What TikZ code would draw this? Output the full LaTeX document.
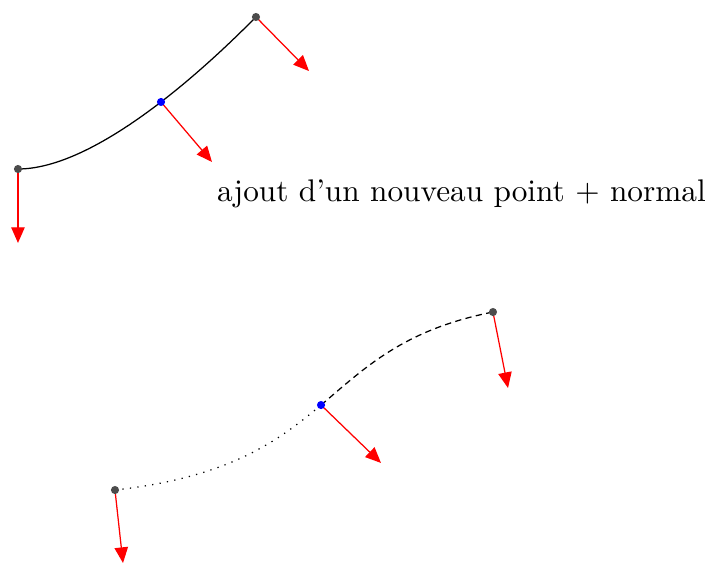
\documentclass[tikz,border=0pt]{standalone}
\usetikzlibrary{arrows.meta}

\begin{document}
\begin{tikzpicture}[
    pt/.style={circle, fill=black!70, inner sep=0pt, minimum size=2.6pt},
    newpt/.style={circle, fill=blue, inner sep=0pt, minimum size=2.6pt},
    normale/.style={red, -{Triangle[length=5pt, width=4.3pt]}}
  ]
  \useasboundingbox (0,0) rectangle (7.955,6.326);

  % courbe avant
  \coordinate (ca0) at (0.202, 4.427);
  \coordinate (ca1) at (1.809, 5.180);
  \coordinate (ca2) at (2.876, 6.135);
  \coordinate (na0) at (0.202, 3.596);
  \coordinate (na1) at (2.382, 4.506);
  \coordinate (na2) at (3.472, 5.528);
  \draw (ca0) .. controls +(0.989,0) and +(-0.27,-0.27) .. (ca2);
  \draw[normale] (ca0) -- (na0);
  \draw[normale] (ca1) -- (na1);
  \draw[normale] (ca2) -- (na2);
  \node[pt] (a0) at (ca0) {};
  \node[newpt] (a1) at (ca1) {};
  \node[pt] (a2) at (ca2) {};

  \node[font=\normalsize] (txt) at (5.185, 4.146)
    {ajout d'un nouveau point + normal};

  % courbe apres
  \coordinate (cb0) at (1.292, 0.820);
  \coordinate (cb1) at (3.607, 1.775);
  \coordinate (cb2) at (5.539, 2.820);
  \coordinate (nb0) at (1.382, 0.0);
  \coordinate (nb1) at (4.281, 1.124);
  \coordinate (nb2) at (5.708, 1.966);
  \draw[dotted] (cb0) .. controls +(1.269,0.141) and +(-0.491,-0.415) .. (cb1);
  \draw[dash pattern=on 2pt off 1.4pt] (cb1) .. controls +(0.492,0.415) and +(-1.013,-0.2) .. (cb2);
  \draw[normale] (cb0) -- (nb0);
  \draw[normale] (cb1) -- (nb1);
  \draw[normale] (cb2) -- (nb2);
  \node[pt] (b0) at (cb0) {};
  \node[newpt] (b1) at (cb1) {};
  \node[pt] (b2) at (cb2) {};
\end{tikzpicture}
\end{document}
